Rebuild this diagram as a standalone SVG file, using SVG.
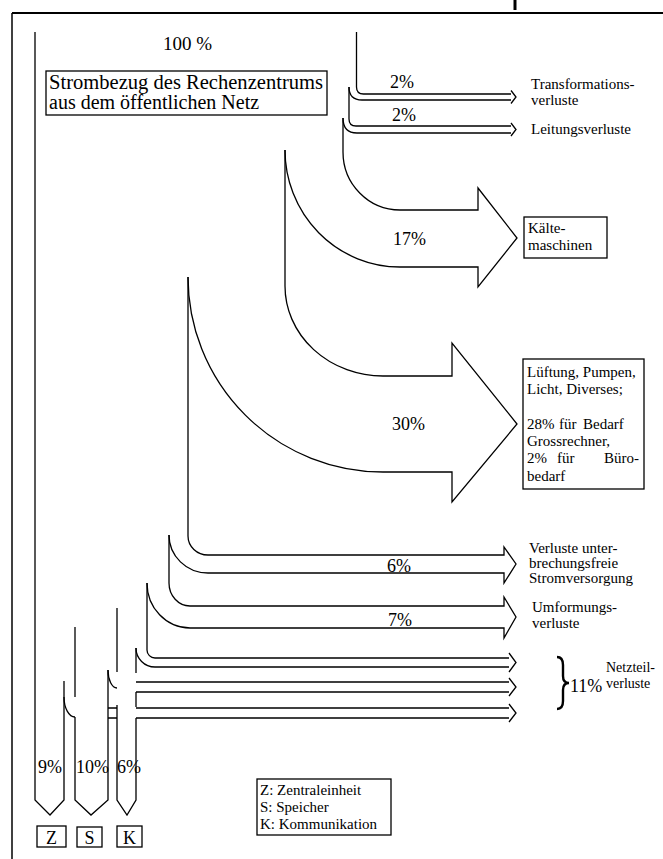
<svg xmlns="http://www.w3.org/2000/svg" width="663" height="859" viewBox="0 0 663 859">
<style>
.ln{fill:none;stroke:#000;stroke-width:1.3;stroke-linejoin:miter}
.bx{fill:#fff;stroke:#000;stroke-width:1.3}
.t{font-family:"Liberation Serif","Times New Roman",serif;fill:#000}
.pc{font-family:"Liberation Serif","Times New Roman",serif;font-size:18px;fill:#000}
.lb{font-family:"Liberation Serif","Times New Roman",serif;font-size:15px;fill:#000}
</style>
<rect width="663" height="859" fill="#fff"/>
<g id="frame">
<path d="M12,13 H663" stroke="#000" stroke-width="2" fill="none"/>
<path d="M12,13 V859" stroke="#000" stroke-width="1.5" fill="none"/>
<path d="M515,0 V10" stroke="#000" stroke-width="3" fill="none"/>
</g>
<g id="connectors">
<path class="ln" d="M35,32 V800 L50,815 L64,800 V681"/>
<path class="ln" d="M356.5,32 V87 Q356.5,94 363.5,94 H511"/>
<path class="ln" d="M349,87 Q349,100 362,100 H511"/>
<path class="ln" d="M511,90.5 L516,97 L511,103.5"/>
<path class="ln" d="M349,87 V119 Q349,126 356,126 H511"/>
<path class="ln" d="M343,118 Q343,133 357,133 H511"/>
<path class="ln" d="M511,123 L516,129.5 L511,136"/>
<path class="ln" d="M343,118 V152 A57,58 0 0 0 400,210 H478 V188 L517,238 L478,287 V267 H400 A115,117 0 0 1 285,150"/>
<path class="ln" d="M285,150 V286 A98,90 0 0 0 383,376 H452 V343 L517,424 L452,502 V472 H383 A195,195 0 0 1 188,277"/>
<path class="ln" d="M188,277 V536 A20,19 0 0 0 208,555 H504 V547 L516,564 L504,583 V573 H208 A39,38 0 0 1 169,535"/>
<path class="ln" d="M169,535 V583 A21,23 0 0 0 190,606 H504 V597 L516,617 L504,638 V628 H190 A43,45 0 0 1 147,583"/>
<path class="ln" d="M147,583 V650 A8,8 0 0 0 155,658 H509"/>
<path class="ln" d="M136,648 A19,19 0 0 0 155,667 H509"/>
<path class="ln" d="M509,653 L516,662.5 L509,672"/>
<path class="ln" d="M136,682 H509 M136,692 H509"/>
<path class="ln" d="M509,678 L516,687 L509,696"/>
<path class="ln" d="M136,708 H509 M136,718 H509"/>
<path class="ln" d="M509,704 L516,713 L509,722"/>
<path class="ln" d="M75,627 V697"/>
<path class="ln" d="M64,697 A11,20 0 0 0 75,717"/>
<path class="ln" d="M75,717 V800 L91,815 L108,800 V670"/>
<path class="ln" d="M108,670 A9,18 0 0 0 117,688"/>
<path class="ln" d="M108,708 H117 M108,718 H117"/>
<path class="ln" d="M117,608 V672"/>
<path class="ln" d="M117,705 V800 L127,815 L136,800 V718"/>
<path class="ln" d="M136,707 V692 M136,673 V648"/>
</g>
<g id="label-100"><text class="t" x="163" y="50" font-size="19">100 %</text></g>
<g id="source-box">
<rect class="bx" x="46" y="71" width="281" height="44"/>
<text class="t" x="49" y="89" font-size="20" textLength="274" lengthAdjust="spacingAndGlyphs">Strombezug des Rechenzentrums</text>
<text class="t" x="49" y="109" font-size="20">aus dem öffentlichen Netz</text>
</g>
<g id="node-transformation">
<text class="pc" x="390" y="88">2%</text>
<text class="lb" x="531" y="89">Transformations-</text>
<text class="lb" x="531" y="105">verluste</text>
</g>
<g id="node-leitung">
<text class="pc" x="392" y="121">2%</text>
<text class="lb" x="531" y="134">Leitungsverluste</text>
</g>
<g id="node-kaelte">
<text class="pc" x="393" y="245">17%</text>
<rect class="bx" x="524" y="217" width="83" height="41"/>
<text class="lb" x="528" y="233">Kälte-</text>
<text class="lb" x="528" y="250">maschinen</text>
</g>
<g id="node-lueftung">
<text class="pc" x="392" y="430">30%</text>
<rect class="bx" x="523" y="359" width="121" height="130"/>
<text class="lb" x="527" y="377">Lüftung, Pumpen,</text>
<text class="lb" x="527" y="394">Licht, Diverses;</text>
<text class="lb" x="527" y="429"><tspan>28%</tspan><tspan x="559">für</tspan><tspan x="583">Bedarf</tspan></text>
<text class="lb" x="527" y="446">Grossrechner,</text>
<text class="lb" x="527" y="463"><tspan>2%</tspan><tspan x="557">für</tspan><tspan x="604">Büro-</tspan></text>
<text class="lb" x="527" y="481">bedarf</text>
</g>
<g id="node-usv">
<text class="pc" x="387" y="572">6%</text>
<text class="lb" x="529" y="553">Verluste unter-</text>
<text class="lb" x="529" y="568">brechungsfreie</text>
<text class="lb" x="529" y="583">Stromversorgung</text>
</g>
<g id="node-umformung">
<text class="pc" x="388" y="626">7%</text>
<text class="lb" x="532" y="612">Umformungs-</text>
<text class="lb" x="532" y="628">verluste</text>
</g>
<g id="node-netzteil">
<path d="M557,657 Q563,657 563,665 V676 Q563,683 569,683 Q563,683 563,690 V701 Q563,709 557,709" fill="none" stroke="#000" stroke-width="2.4"/>
<text class="pc" x="570" y="692">11%</text>
<text class="t" font-size="14" x="606" y="672">Netzteil-</text>
<text class="t" font-size="14" x="606" y="688">verluste</text>
</g>
<g id="node-z">
<text class="pc" x="38" y="773">9%</text>
<rect class="bx" x="37" y="826" width="29" height="21"/>
<text class="pc" x="51.5" y="844" text-anchor="middle">Z</text>
</g>
<g id="node-s">
<text class="pc" x="76" y="773">10%</text>
<rect class="bx" x="77" y="827" width="25" height="20"/>
<text class="pc" x="89.5" y="844" text-anchor="middle">S</text>
</g>
<g id="node-k">
<text class="pc" x="117" y="773">6%</text>
<rect class="bx" x="117" y="826" width="25" height="21"/>
<text class="pc" x="129.5" y="844" text-anchor="middle">K</text>
</g>
<g id="legend">
<rect class="bx" x="257" y="779" width="134" height="56"/>
<text class="lb" x="260" y="795">Z: Zentraleinheit</text>
<text class="lb" x="260" y="812">S: Speicher</text>
<text class="lb" x="260" y="829">K: Kommunikation</text>
</g>
</svg>
